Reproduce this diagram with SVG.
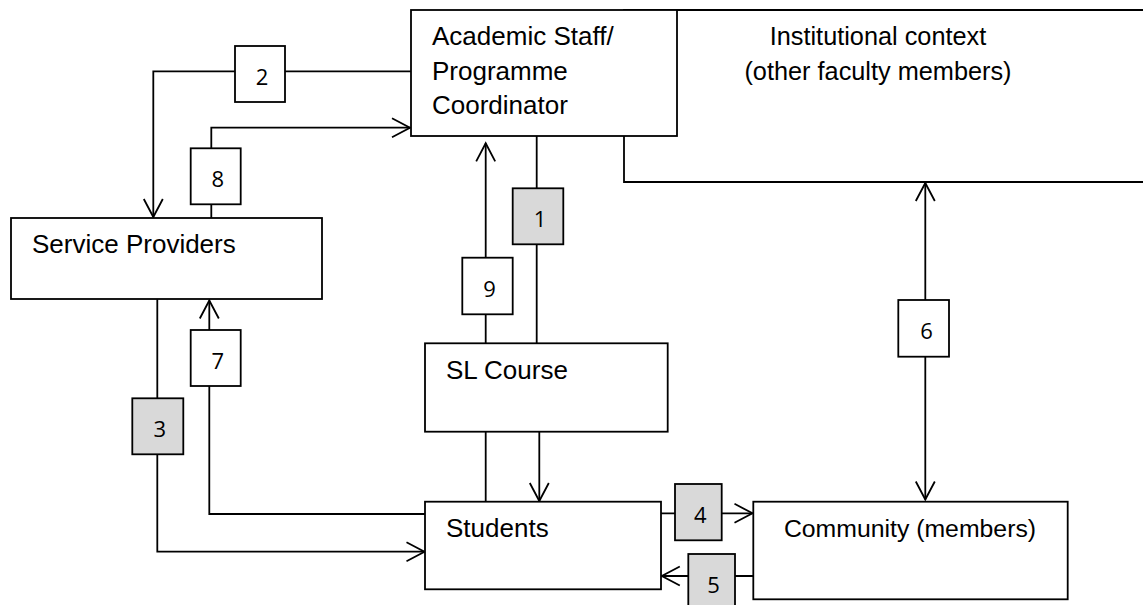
<svg xmlns="http://www.w3.org/2000/svg" width="1143" height="605" viewBox="0 0 1143 605">
<style>
.box{fill:#fff;stroke:#000;stroke-width:1.8}
.gray{fill:#d9d9d9;stroke:#000;stroke-width:1.8}
.t{font-family:"Liberation Sans",Arial,sans-serif;font-size:26px;fill:#000}
.n{font-family:"Open Sans","DejaVu Sans",sans-serif;font-size:22px;fill:#000;text-anchor:middle}
.c{fill:none;stroke:#000;stroke-width:1.8}
</style>
<defs>
<marker id="arr" markerUnits="userSpaceOnUse" markerWidth="24" markerHeight="24" refX="19" refY="11" orient="auto-start-reverse">
<path d="M1,1.5 L19,11 L1,20.5" fill="none" stroke="#000" stroke-width="1.8"/>
</marker>
</defs>
<g id="institutional-context">
<path class="box" d="M1146,10 H624 V182 H1146"/>
<text class="t" x="878" y="45" text-anchor="middle" style="font-size:25.3px">Institutional context</text>
<text class="t" x="878" y="80" text-anchor="middle" style="font-size:25.3px">(other faculty members)</text>
</g>
<g id="connectors">
<path class="c" d="M411,71.3 H153.3 V217" marker-end="url(#arr)"/>
<path class="c" d="M211.3,218 V127.7 H410" marker-end="url(#arr)"/>
<path class="c" d="M485.7,343.3 V143.3" marker-end="url(#arr)"/>
<path class="c" d="M536.7,343.3 V136"/>
<path class="c" d="M485.7,431.7 V501.7"/>
<path class="c" d="M539.3,431.7 V501" marker-end="url(#arr)"/>
<path class="c" d="M157.3,299.3 V551.7 H424.5" marker-end="url(#arr)"/>
<path class="c" d="M425,514 H209.3 V300.5" marker-end="url(#arr)"/>
<path class="c" d="M661,513.3 H752.5" marker-end="url(#arr)"/>
<path class="c" d="M753.3,576 H661.8" marker-end="url(#arr)"/>
<path class="c" d="M925.3,183 V499.5" marker-start="url(#arr)" marker-end="url(#arr)"/>
</g>
<g id="academic-staff">
<rect class="box" x="411" y="10" width="266" height="126"/>
<text class="t" x="432" y="45">Academic Staff/</text>
<text class="t" x="432" y="80">Programme</text>
<text class="t" x="432" y="114">Coordinator</text>
</g>
<g id="service-providers">
<rect class="box" x="11" y="218" width="311" height="81"/>
<text class="t" x="32" y="252.7">Service Providers</text>
</g>
<g id="sl-course">
<rect class="box" x="425" y="343.3" width="242.7" height="88.4"/>
<text class="t" x="446" y="379">SL Course</text>
</g>
<g id="students">
<rect class="box" x="425" y="501.7" width="236" height="87.6"/>
<text class="t" x="446" y="536.7">Students</text>
</g>
<g id="community">
<rect class="box" x="753.3" y="501.7" width="314.4" height="97.6"/>
<text class="t" x="910" y="537" text-anchor="middle" style="font-size:24.8px">Community (members)</text>
</g>
<g id="label-1"><rect class="gray" x="512.7" y="188.3" width="50.6" height="56"/><text class="n" x="540" y="227.3">1</text></g>
<g id="label-2"><rect class="box" x="235" y="46" width="50" height="56"/><text class="n" x="262" y="85">2</text></g>
<g id="label-3"><rect class="gray" x="132.3" y="398.3" width="51" height="56"/><text class="n" x="159.8" y="437.3">3</text></g>
<g id="label-4"><rect class="gray" x="675" y="484" width="46.7" height="56.3"/><text class="n" x="700.3" y="523">4</text></g>
<g id="label-5"><rect class="gray" x="688.3" y="554" width="46.7" height="56"/><text class="n" x="713.6" y="593">5</text></g>
<g id="label-6"><rect class="box" x="898.3" y="300" width="50.7" height="56.7"/><text class="n" x="926.6" y="339">6</text></g>
<g id="label-7"><rect class="box" x="190.7" y="330" width="50" height="56"/><text class="n" x="217.7" y="369">7</text></g>
<g id="label-8"><rect class="box" x="190.7" y="148.3" width="50" height="56"/><text class="n" x="217.7" y="187.3">8</text></g>
<g id="label-9"><rect class="box" x="462.3" y="257.7" width="50.4" height="56.6"/><text class="n" x="489.5" y="296.7">9</text></g>
</svg>
